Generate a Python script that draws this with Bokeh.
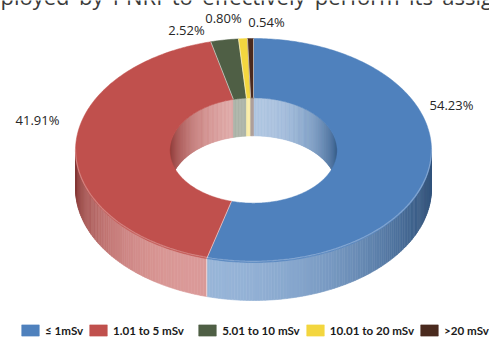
import numpy as np
from bokeh.plotting import figure
from bokeh.models import Range1d, ColumnDataSource, Legend, LegendItem
from bokeh.embed import file_html
from bokeh.resources import INLINE
from bokeh.core.properties import value

# ---------------- data ----------------
categories = ["≤ 1mSv", "1.01 to 5 mSv", "5.01 to 10 mSv", "10.01 to 20 mSv", ">20 mSv"]
percent = [54.23, 41.91, 2.52, 0.80, 0.54]
pct_labels = ["54.23%", "41.91%", "2.52%", "0.80%", "0.54%"]
colors = ["#4F81BD", "#C0504D", "#4F5F45", "#F3D63F", "#4A2A1E"]
header_words = ["ployed", "by", "PNRI", "to", "effectively", "perform", "its", "assig"]

# ---------------- layout / style ----------------
W, H = 489, 338
CX, CY, RX, RY = 253, 150, 178, 112
HOLE = 0.47
DEPTH = 38
label_pos = [(451, 104), (37, 119), (186, 29), (223, 17), (266, 21)]
FONT = "Open Sans"
LEGEND_FONT = "Lato"


def hex2rgb(h):
    h = h.lstrip("#")
    return np.array([int(h[i:i + 2], 16) for i in (0, 2, 4)], dtype=float)


def rgb2hex(c):
    c = np.clip(np.round(c), 0, 255).astype(int)
    return "#%02x%02x%02x" % tuple(c)


def shade(hexcol, t, dark=0.68, white=0.45):
    base = hex2rgb(hexcol)
    c = base * (dark + (1 - dark) * t)
    w = white * t ** 1.5
    c = c * (1 - w) + 255 * w
    return rgb2hex(c)


def ell(theta, r, dy=0.0):
    th = np.radians(theta)
    return CX + RX * r * np.sin(th), CY - RY * r * np.cos(th) + dy


total = float(sum(percent))
ends = np.cumsum(percent) / total * 360.0
starts = np.concatenate([[0.0], ends[:-1]])

p = figure(width=W, height=H, output_backend="svg", toolbar_location=None,
           x_range=Range1d(0, W), y_range=Range1d(H, 0),
           min_border=0, min_border_left=0, min_border_right=0,
           min_border_top=0, min_border_bottom=0)
p.axis.visible = False
p.grid.visible = False
p.outline_line_color = None
p.background_fill_color = "white"
p.border_fill_color = "white"

# header text (a justified line of the surrounding page, cut at the top)
header_text = " \u2009".join(header_words)
p.text(x=[0], y=[0.5], text=[header_text], text_font=value(FONT),
       text_font_size="22px", text_color="#3a3a3a", text_baseline="middle",
       y_offset=-5)


def overlap(a, b, lo, hi):
    s, e = max(a, lo), min(b, hi)
    return (s, e) if e > s else None


# ---------------- inner walls (back half) ----------------
wx, wy, wc = [], [], []
for a, b, col in zip(starts, ends, colors):
    for lo, hi in ((270, 360), (0, 90)):
        seg = overlap(a, b, lo, hi)
        if seg is None:
            continue
        s, e = seg
        n = max(2, int((e - s) / 1.0) + 1)
        th = np.linspace(s, e, n)
        for i in range(n - 1):
            t0, t1 = th[i], th[i + 1]
            xa, ya = ell(t0, HOLE)
            xb, yb = ell(t1, HOLE)
            tm = 0.5 * (t0 + t1)
            tt = max(0.0, np.cos(np.radians(tm))) ** 1.2
            c = shade(col, tt, dark=0.72, white=0.55)
            wx.append([xa, xb, xb, xa])
            wy.append([ya, yb, yb + DEPTH, ya + DEPTH])
            wc.append(c)
p.patches(xs=wx, ys=wy, fill_color=wc, line_color=wc, line_width=0.6)

# ---------------- outer walls (front half) ----------------
ox, oy, oc = [], [], []
for a, b, col in zip(starts, ends, colors):
    seg = overlap(a, b, 90, 270)
    if seg is None:
        continue
    s, e = seg
    n = max(2, int((e - s) / 1.0) + 1)
    th = np.linspace(s, e, n)
    for i in range(n - 1):
        t0, t1 = th[i], th[i + 1]
        xa, ya = ell(t0, 1.0)
        xb, yb = ell(t1, 1.0)
        tm = 0.5 * (t0 + t1)
        d = tm - 200
        k = 1.25 if d > 0 else 0.95
        tt = max(0.0, np.cos(np.radians(d * k)))
        c = shade(col, tt, dark=0.66, white=0.42)
        ox.append([xa, xb, xb, xa])
        oy.append([ya, yb, yb + DEPTH, ya + DEPTH])
        oc.append(c)
p.patches(xs=ox, ys=oy, fill_color=oc, line_color=oc, line_width=0.6)

# boundary line on outer wall
for a in starts:
    if 90 < a < 270:
        x0, y0 = ell(a, 1.0)
        p.line([x0, x0], [y0, y0 + DEPTH], line_color="white", line_alpha=0.6, line_width=1)

# ---------------- top faces ----------------
tx, ty = [], []
for a, b in zip(starts, ends):
    n = max(3, int((b - a) / 0.8) + 2)
    th = np.linspace(a, b, n)
    xo, yo = ell(th, 1.0)
    xi, yi = ell(th[::-1], HOLE)
    tx.append(list(xo) + list(xi))
    ty.append(list(yo) + list(yi))
src = ColumnDataSource(dict(xs=tx, ys=ty, color=colors, label=categories))
top = p.patches(xs="xs", ys="ys", fill_color="color", line_color="color",
                line_width=0.5, source=src)

# rim highlight on front outer edge
for a, b, col in zip(starts, ends, colors):
    seg = overlap(a, b, 90, 270)
    if seg is None:
        continue
    th = np.linspace(seg[0], seg[1], 60)
    xo, yo = ell(th, 1.0)
    p.line(xo, yo - 1.2, line_color=shade(col, 1.0, dark=1.0, white=0.35),
           line_width=1.2, line_alpha=0.8)

# slice separators on top face
for a in starts:
    x0, y0 = ell(a, HOLE)
    x1, y1 = ell(a, 1.0)
    p.line([x0, x1], [y0, y1], line_color="white", line_alpha=0.55, line_width=1)

# ---------------- labels ----------------
p.text(x=[q[0] for q in label_pos], y=[q[1] for q in label_pos], text=pct_labels,
       text_font=value(FONT), text_font_size="13px", text_color="#262626",
       text_align="center", text_baseline="middle")

# ---------------- legend ----------------
legend_labels = list(categories)
legend_labels[1] = legend_labels[1] + "\u00a0\u00a0\u00a0"
items = [LegendItem(label=legend_labels[i], renderers=[top], index=i)
         for i in range(len(categories))]
legend = Legend(items=items, orientation="horizontal", location=(19, 1),
                glyph_width=22, glyph_height=14, label_height=14,
                label_standoff=4, spacing=4, padding=0, margin=0,
                label_text_font=LEGEND_FONT, label_text_font_size="11.6px",
                label_text_font_style="bold", label_text_color="#1a1a1a",
                border_line_alpha=0, background_fill_alpha=0)
p.add_layout(legend)

open("out.html", "w").write(file_html(p, INLINE))
